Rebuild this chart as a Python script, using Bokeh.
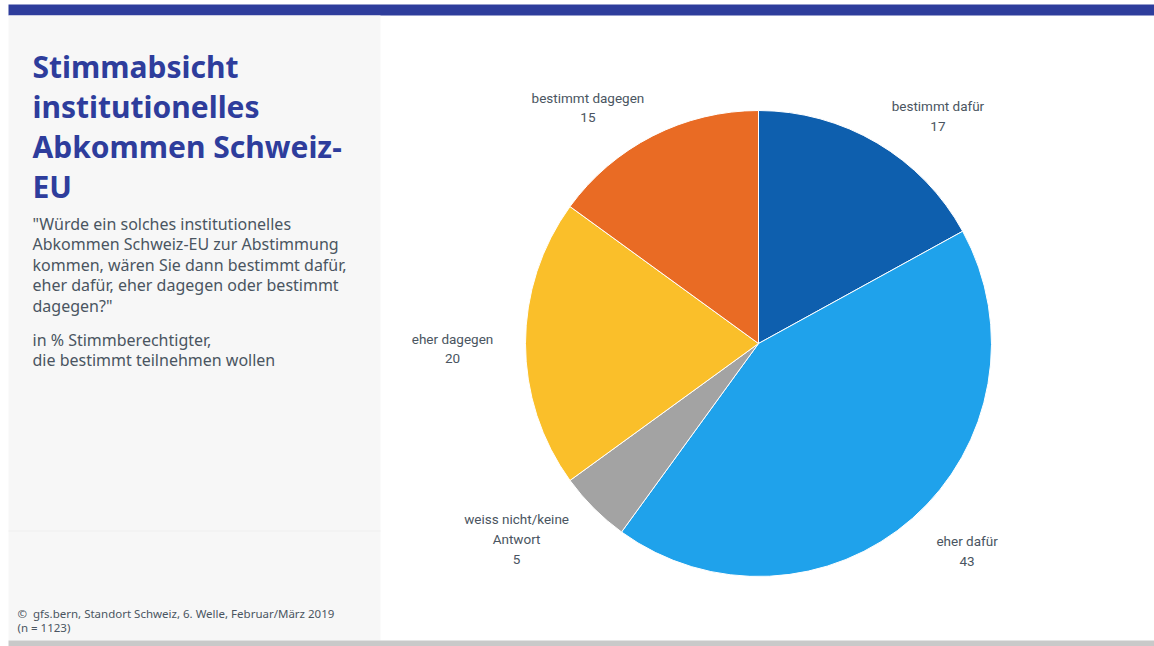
import math
from bokeh.plotting import figure
from bokeh.models import Range1d
from bokeh.core.properties import value
from bokeh.embed import file_html
from bokeh.resources import INLINE

# ---------------- data ----------------
categories = ["bestimmt dafür", "eher dafür", "weiss nicht/keine\nAntwort", "eher dagegen", "bestimmt dagegen"]
values = [17, 43, 5, 20, 15]
colors = ["#0e5fae", "#1fa2eb", "#a3a3a3", "#fabf2a", "#e96b24"]

title_lines = ["Stimmabsicht", "institutionelles", "Abkommen Schweiz-", "EU"]
question_lines = ['"Würde ein solches institutionelles',
                  "Abkommen Schweiz-EU zur Abstimmung",
                  "kommen, wären Sie dann bestimmt dafür,",
                  "eher dafür, eher dagegen oder bestimmt",
                  'dagegen?"']
unit_lines = ["in % Stimmberechtigter,", "die bestimmt teilnehmen wollen"]
footer_lines = ["©\u00a0\u00a0gfs.bern, Standort Schweiz, 6. Welle, Februar/März 2019", "(n = 1123)"]

# ---------------- layout ----------------
W, H = 1154, 646


def Y(py):
    # page pixel y -> data y
    return H - py


p = figure(width=W, height=H, x_range=Range1d(0, W), y_range=Range1d(0, H),
           output_backend="svg", toolbar_location=None, min_border=0,
           x_axis_location=None, y_axis_location=None)
p.grid.visible = False
p.outline_line_color = None
p.background_fill_color = "white"
p.border_fill_color = "white"

TITLE_C = "#2e3d9c"
TEXT_C = "#4a5561"

# top bar, left panel, bottom bar
p.quad(left=[8], right=[W], top=[Y(4)], bottom=[Y(15)], fill_color=TITLE_C, line_color=None)
p.quad(left=[8], right=[380], top=[Y(15)], bottom=[Y(640)], fill_color="#f7f7f7", line_color=None)
p.segment(x0=[8], y0=[Y(530.5)], x1=[380], y1=[Y(530.5)], line_color="#efefef", line_width=1)
p.quad(left=[8], right=[W], top=[Y(640)], bottom=[Y(646)], fill_color="#c9c9c9", line_color=None)

# ---------------- pie ----------------
cx, cy, r = 758, 343, 233
total = sum(values)
cum = 0
starts, ends, mids = [], [], []
for v in values:
    a0 = cum / total
    cum += v
    a1 = cum / total
    starts.append(math.pi / 2 - a0 * 2 * math.pi)
    ends.append(math.pi / 2 - a1 * 2 * math.pi)
    mids.append((a0 + a1) / 2 * 2 * math.pi)  # clockwise from top

p.wedge(x=[cx] * len(values), y=[Y(cy)] * len(values), radius=[r] * len(values),
        start_angle=starts, end_angle=ends, direction="clock",
        fill_color=colors, line_color="white", line_width=1)

# data labels
d = 37
k = 5
char_w = 6.0
lx, ly, lt = [], [], []
for name, v, th in zip(categories, values, mids):
    lines = name.split("\n") + [str(v)]
    w = max(len(s) for s in lines) * char_w
    s = math.sin(th)
    xc = cx + (r + d) * s + (1 if s > 0 else -1) * w / 2
    yc = cy - (r + d) * math.cos(th) + k
    n = len(lines)
    for i, s_line in enumerate(lines):
        lx.append(xc)
        ly.append(Y(yc + (i - (n - 1) / 2) * 20))
        lt.append(s_line)
p.text(x=lx, y=ly, text=lt, text_font=value("Roboto"), text_font_size="13.5px",
       text_color=TEXT_C, text_align="center", text_baseline="middle")

# ---------------- left panel texts ----------------
p.text(x=[32] * len(title_lines), y=[Y(66 + 40 * i) for i in range(len(title_lines))], text=title_lines,
       text_font=value("Noto Sans"), text_font_size="30px", text_font_style="bold",
       text_color=TITLE_C, text_align="left", text_baseline="alphabetic")

p.text(x=[32] * len(question_lines), y=[Y(223 + 20.5 * i) for i in range(len(question_lines))],
       text=question_lines, text_font=value("Noto Sans"), text_font_size="16px",
       text_color=TEXT_C, text_align="left", text_baseline="alphabetic")

p.text(x=[32] * len(unit_lines), y=[Y(339 + 20 * i) for i in range(len(unit_lines))],
       text=unit_lines, text_font=value("Noto Sans"), text_font_size="16px",
       text_color=TEXT_C, text_align="left", text_baseline="alphabetic")

p.text(x=[17] * len(footer_lines), y=[Y(613 + 14 * i) for i in range(len(footer_lines))],
       text=footer_lines, text_font=value("Noto Sans"), text_font_size="11.5px",
       text_color=TEXT_C, text_align="left", text_baseline="alphabetic")

open("out.html", "w").write(file_html(p, INLINE))
